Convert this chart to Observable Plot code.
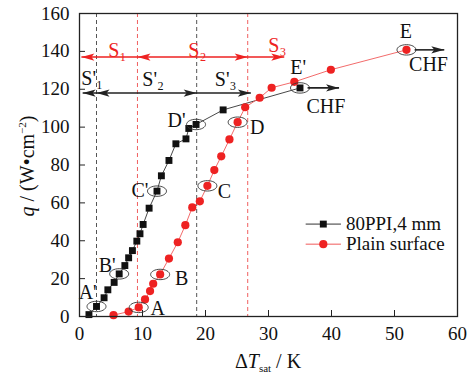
<!DOCTYPE html>
<html><head><meta charset="utf-8">
<script src="https://cdn.jsdelivr.net/npm/d3@7"></script>
<script src="https://cdn.jsdelivr.net/npm/@observablehq/plot@0.6"></script>
<style>body{margin:0;background:#fff} svg{display:block} svg text{font-family:"Liberation Serif","DejaVu Serif",serif}</style>
</head><body><div id="chart"></div>
<script>
// ---- data ----
const seriesNames = ["80PPI,4 mm", "Plain surface"];
const foamX = [1.5, 2.7, 3.9, 4.5, 5.5, 6.3, 7.2, 7.8, 8.4, 9.1, 9.6, 10.1, 11.05, 12.3, 13.0, 14.2, 15.3, 16.9, 17.35, 18.5, 22.8, 35.0];
const foamQ = [1.0, 5.3, 9.9, 14.1, 18.0, 22.5, 26.9, 31.0, 34.8, 39.8, 43.7, 48.6, 57.2, 66.2, 74.3, 82.4, 91.2, 93.8, 99.3, 101.4, 109.1, 120.7];
const plainX = [5.4, 7.8, 9.4, 10.4, 11.2, 11.7, 12.8, 14.2, 15.6, 16.8, 17.9, 19.1, 20.3, 21.4, 22.5, 23.8, 25.1, 26.3, 28.6, 30.5, 34.1, 39.9, 51.9];
const plainQ = [0.7, 2.6, 4.8, 9.0, 13.4, 17.3, 22.2, 30.6, 39.2, 48.2, 57.6, 60.8, 69.0, 77.3, 84.6, 93.5, 102.6, 110.5, 115.5, 120.8, 123.9, 130.3, 140.8];
const xTicks = [0, 10, 20, 30, 40, 50, 60];
const yTicks = [0, 20, 40, 60, 80, 100, 120, 140, 160];
// regime boundaries (ΔT_sat)
const foamBounds = [2.7, 18.6];
const plainBounds = [9.2, 26.7];
// regime span arrows
const plainSpan = {x1: 0.3, x2: 32.5, q: 137};
const foamSpan = {x1: 0.5, x2: 27.2, q: 118};
const plainHeadsX = [0.3, 9.2, 26.7, 32.5];
const plainHeadsDir = ["L", "L", "R", "R"];
const foamHeadsX = [0.5, 2.7, 18.6, 27.2];
const foamHeadsDir = ["L", "L", "R", "R"];
const regimeLabels = ["S₁", "S₂", "S₃"];
const regimeLabelX = [6.0, 18.7, 31.4];
const regimeLabelQ = [140.6, 140.6, 143.0];
const regimeLabelsP = ["S'₁", "S'₂", "S'₃"];
const regimeLabelPX = [2.0, 11.7, 23.2];
const regimeLabelPQ = [125.4, 125.2, 125.2];
// key points
const keyNames = ["A'", "A", "B'", "B", "C'", "C", "D'", "D", "E'", "E"];
const keyX = [2.7, 9.4, 6.3, 12.8, 12.3, 20.3, 18.5, 25.1, 35.0, 51.9];
const keyQ = [5.3, 4.8, 22.5, 22.2, 66.2, 69.0, 101.4, 102.6, 120.7, 140.8];
const keyLabelX = [1.3, 12.4, 4.4, 16.2, 9.6, 23.0, 15.4, 28.2, 34.7, 51.8];
const keyLabelQ = [12.4, 4.0, 27.0, 19.8, 66.3, 65.7, 103.5, 100.0, 131.2, 150.7];
// CHF arrows
const chfX1 = [36.2, 53.2];
const chfX2 = [41.2, 57.9];
const chfQ = [120.7, 140.8];
const chfLabelX = [39.1, 55.4];
const chfLabelQ = [111.1, 132.8];
// legend placement (data units)
const legendX1 = 35.9, legendX2 = 41.5, legendTextX = 42.3;
const legendQ = [48.8, 38.2];

// ---- build ----
const RED = "#ee2222", REDLINE = "#f05a5a", BLACK = "#111";
const SERIF = "Liberation Serif";
const foam = foamX.map((x, i) => ({x, q: foamQ[i]}));
const plain = plainX.map((x, i) => ({x, q: plainQ[i]}));
const keys = keyNames.map((n, i) => ({n, x: keyX[i], q: keyQ[i], lx: keyLabelX[i], lq: keyLabelQ[i]}));
const pHeads = plainHeadsX.map((x, i) => ({x, d: plainHeadsDir[i], q: plainSpan.q}));
const fHeads = foamHeadsX.map((x, i) => ({x, d: foamHeadsDir[i], q: foamSpan.q}));
const chf = chfX1.map((x1, i) => ({x1, x2: chfX2[i], q: chfQ[i], lx: chfLabelX[i], lq: chfLabelQ[i]}));
const legend = seriesNames.map((n, i) => ({n, q: legendQ[i], lc: i === 0 ? "#333" : REDLINE}));

const headR = {draw(c) { c.moveTo(0, 0); c.lineTo(-13, -3.6); c.lineTo(-10, 0); c.lineTo(-13, 3.6); c.closePath(); }};
const headL = {draw(c) { c.moveTo(0, 0); c.lineTo(13, -3.6); c.lineTo(10, 0); c.lineTo(13, 3.6); c.closePath(); }};
const ellipse = {draw(c) {
  const rx = 9.5, ry = 5.2, k = 0.5523;
  c.moveTo(rx, 0);
  c.bezierCurveTo(rx, ry * k, rx * k, ry, 0, ry);
  c.bezierCurveTo(-rx * k, ry, -rx, ry * k, -rx, 0);
  c.bezierCurveTo(-rx, -ry * k, -rx * k, -ry, 0, -ry);
  c.bezierCurveTo(rx * k, -ry, rx, -ry * k, rx, 0);
  c.closePath();
}};

const svg = Plot.plot({
  width: 472, height: 376,
  marginLeft: 79, marginRight: 15, marginTop: 13, marginBottom: 60,
  style: "font-family: 'Liberation Serif', serif; font-size: 19px; color: #111; background: #fff;",
  x: {domain: [0, 60]},
  y: {domain: [0, 160]},
  marks: [
    Plot.ruleX(foamBounds, {stroke: "#555", strokeDasharray: "4,3", strokeWidth: 1}),
    Plot.ruleX(plainBounds, {stroke: "#f06060", strokeDasharray: "4,3", strokeWidth: 1}),
    Plot.axisX({ticks: xTicks, tickSize: -6, tickPadding: 16, label: null, fontSize: 19, fontFamily: SERIF, stroke: "#222"}),
    Plot.axisY({ticks: yTicks, tickSize: -6, tickPadding: 16, label: null, fontSize: 19, fontFamily: SERIF, stroke: "#222"}),
    // series lines and markers
    Plot.line(foam, {x: "x", y: "q", stroke: "#333", strokeWidth: 0.9}),
    Plot.line(plain, {x: "x", y: "q", stroke: REDLINE, strokeWidth: 0.9}),
    Plot.dot(foam, {x: "x", y: "q", symbol: "square", r: 3.9, fill: BLACK}),
    Plot.dot(plain, {x: "x", y: "q", symbol: "circle", r: 4.1, fill: RED}),
    // key point ellipses and labels
    Plot.dot(keys, {x: "x", y: "q", symbol: ellipse, r: 5, fill: "none", stroke: "#333", strokeWidth: 0.9}),
    Plot.text(keys, {x: "lx", y: "lq", text: "n", fontSize: 20, fontFamily: SERIF, fill: "#111"}),
    // regime spans
    Plot.link([plainSpan], {x1: "x1", x2: "x2", y1: "q", y2: "q", stroke: RED, strokeWidth: 1.6}),
    Plot.link([foamSpan], {x1: "x1", x2: "x2", y1: "q", y2: "q", stroke: "#222", strokeWidth: 1.6}),
    Plot.dot(pHeads.filter(d => d.d === "R"), {x: "x", y: "q", symbol: headR, r: 5, fill: RED, stroke: "none"}),
    Plot.dot(pHeads.filter(d => d.d === "L"), {x: "x", y: "q", symbol: headL, r: 5, fill: RED, stroke: "none"}),
    Plot.dot(fHeads.filter(d => d.d === "R"), {x: "x", y: "q", symbol: headR, r: 5, fill: "#222", stroke: "none"}),
    Plot.dot(fHeads.filter(d => d.d === "L"), {x: "x", y: "q", symbol: headL, r: 5, fill: "#222", stroke: "none"}),
    Plot.text(regimeLabels, {x: (d, i) => regimeLabelX[i], y: (d, i) => regimeLabelQ[i], text: d => d, fontSize: 20, fontFamily: SERIF, fill: RED}),
    Plot.text(regimeLabelsP, {x: (d, i) => regimeLabelPX[i], y: (d, i) => regimeLabelPQ[i], text: d => d, fontSize: 20, fontFamily: SERIF, fill: "#111"}),
    // CHF arrows
    Plot.link(chf, {x1: "x1", x2: "x2", y1: "q", y2: "q", stroke: "#222", strokeWidth: 1.6}),
    Plot.dot(chf, {x: "x2", y: "q", symbol: headR, r: 5, fill: "#222", stroke: "none"}),
    Plot.text(chf, {x: "lx", y: "lq", text: () => "CHF", fontSize: 20, fontFamily: SERIF, fill: "#111"}),
    // legend
    Plot.link(legend, {x1: () => legendX1, x2: () => legendX2, y1: "q", y2: "q", stroke: "lc", strokeWidth: 1}),
    Plot.dot(legend.slice(0, 1), {x: () => (legendX1 + legendX2) / 2, y: "q", symbol: "square", r: 3.9, fill: BLACK}),
    Plot.dot(legend.slice(1), {x: () => (legendX1 + legendX2) / 2, y: "q", symbol: "circle", r: 4.1, fill: RED}),
    Plot.text(legend, {x: () => legendTextX, y: "q", text: "n", textAnchor: "start", fontSize: 19, fontFamily: SERIF, fill: "#111"}),
    Plot.frame({stroke: "#222", strokeWidth: 1.3})
  ]
});

// axis titles with italic / sub / superscripts
const s = d3.select(svg);
const xt = s.append("text").attr("x", 268).attr("y", 368).attr("text-anchor", "middle")
  .style("font-family", "'Liberation Serif', serif").attr("font-size", 20).attr("fill", "#111");
xt.append("tspan").text("Δ");
xt.append("tspan").attr("font-style", "italic").text("T");
xt.append("tspan").attr("font-size", 11).attr("dy", 4).text("sat");
xt.append("tspan").attr("dy", -4).text(" / K");

const yt = s.append("text").attr("transform", "translate(34,166) rotate(-90)").attr("text-anchor", "middle")
  .style("font-family", "'Liberation Serif', serif").attr("font-size", 20).attr("fill", "#111");
yt.append("tspan").attr("font-style", "italic").text("q");
yt.append("tspan").text(" / (W•cm");
yt.append("tspan").attr("font-size", 11).attr("dy", -8).text("−2");
yt.append("tspan").attr("dy", 8).text(")");

document.getElementById("chart").appendChild(svg);
</script>
</body></html>
